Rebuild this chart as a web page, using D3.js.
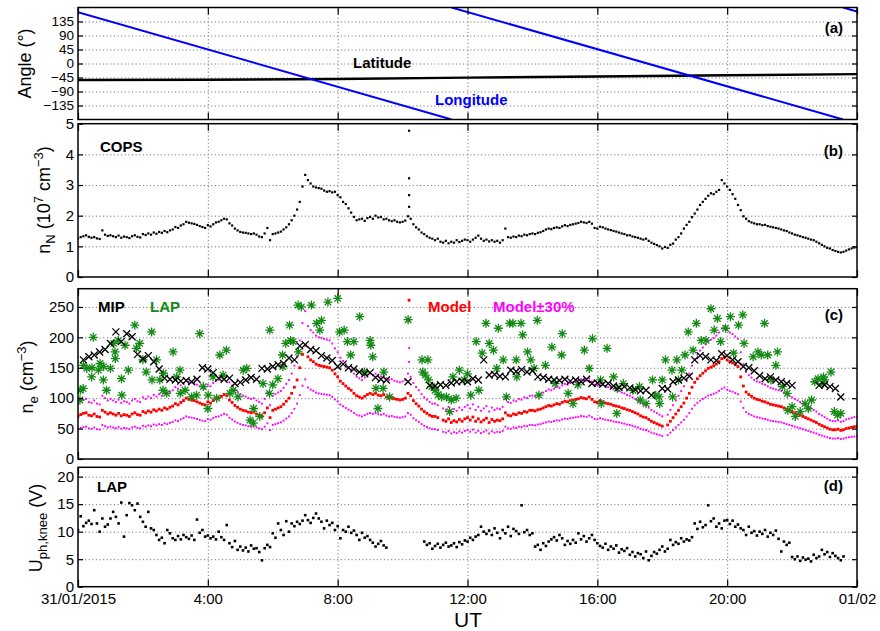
<!DOCTYPE html>
<html>
<head>
<meta charset="utf-8">
<script src="https://cdn.jsdelivr.net/npm/d3@7"></script>
<style>
body { margin: 0; background: #fff; }
svg text { font-family: "Liberation Sans", Arial, Helvetica, sans-serif; }
</style>
</head>
<body>
<svg id="chart" width="880" height="631"></svg>
<script>
// time axis (hours of 31/01/2015, UT)
var xTickHours = [0, 4, 8, 12, 16, 20, 24];
var xTickLabels = ["31/01/2015", "4:00", "8:00", "12:00", "16:00", "20:00", "01/02"];

// y ticks of each panel
var angleTicks = [-135, -90, -45, 0, 45, 90, 135];
var copsTicks = [0, 1, 2, 3, 4, 5];
var neTicks = [0, 50, 100, 150, 200, 250];
var uphTicks = [0, 5, 10, 15, 20];

// (a) sub-spacecraft latitude / longitude (deg)
var latHours = [0, 4, 8, 12, 16, 20, 24];
var latDeg = [-53, -52, -50, -45.5, -42, -38, -34];
var lonHours = [0, 11.51, 11.51, 23.57, 23.57, 24];
var lonDeg = [165, -180, 180, -180, 180, 167];

// dense series are sampled every 5 minutes from 00:00
var stepMin = 5;

// (b) COPS neutral density (1e7 cm^-3)
var copsNn = [
  1.25,1.30,1.33,1.36,1.31,1.28,1.30,1.26,1.24,1.52,1.38,1.34,
  1.36,1.33,1.30,1.35,1.28,1.32,1.30,1.27,1.33,1.36,1.31,1.29,
  1.40,1.37,1.42,1.38,1.45,1.41,1.47,1.44,1.50,1.46,1.52,1.55,
  1.63,1.60,1.68,1.72,1.80,1.77,1.75,1.73,1.70,1.66,1.63,1.60,
  1.69,1.65,1.72,1.78,1.80,1.85,1.90,1.88,1.75,1.68,1.58,1.52,
  1.47,1.45,1.44,1.42,1.40,1.42,1.38,1.32,1.30,1.42,1.60,1.20,
  1.40,1.42,1.45,1.48,1.55,1.62,1.72,1.85,2.00,2.20,2.45,2.95,
  3.33,3.16,3.05,2.95,2.92,2.90,2.88,2.82,2.78,2.80,2.76,2.78,
  2.67,2.60,2.45,2.38,2.24,2.10,1.96,1.85,1.88,1.90,1.83,1.92,
  1.96,1.90,2.00,1.94,1.96,1.88,1.90,1.85,1.82,1.85,1.80,1.78,
  1.80,1.84,1.98,1.90,1.72,1.62,1.55,1.45,1.40,1.33,1.28,1.25,
  1.20,1.25,1.15,1.12,1.18,1.10,1.15,1.12,1.20,1.14,1.18,1.22,
  1.20,1.15,1.22,1.28,1.35,1.25,1.18,1.22,1.16,1.20,1.15,1.18,
  1.12,1.20,1.58,1.30,1.28,1.32,1.30,1.35,1.33,1.38,1.36,1.40,
  1.42,1.40,1.44,1.46,1.50,1.55,1.58,1.56,1.60,1.62,1.60,1.65,
  1.69,1.66,1.70,1.72,1.74,1.76,1.80,1.78,1.76,1.80,1.74,1.60,
  1.58,1.64,1.62,1.58,1.55,1.53,1.50,1.48,1.45,1.42,1.40,1.36,
  1.36,1.32,1.30,1.28,1.25,1.22,1.25,1.18,1.12,1.08,1.04,1.00,
  0.93,0.98,0.95,1.05,1.09,1.22,1.30,1.42,1.58,1.70,1.80,1.95,
  2.07,2.20,2.35,2.45,2.55,2.65,2.73,2.70,2.78,2.84,3.16,3.05,
  2.95,2.84,2.70,2.55,2.35,2.18,1.98,1.90,1.82,1.78,1.75,1.72,
  1.72,1.69,1.70,1.66,1.64,1.62,1.60,1.58,1.55,1.52,1.50,1.45,
  1.42,1.38,1.36,1.33,1.30,1.28,1.25,1.22,1.20,1.15,1.10,1.05,
  1.00,0.95,0.93,0.88,0.85,0.82,0.80,0.82,0.86,0.90,0.93,0.96,
  0.98
];
// short burst near 10:12
var copsBurstHours = [10.2, 10.2, 10.2, 10.2];
var copsBurstNn = [4.77, 3.22, 2.67, 2.29];

// (c) model electron density (cm^-3)
var modelNe = [
  70,73,75,76,72,71,74,70,69,80,77,74,
  76,74,72,75,71,73,72,70,74,76,73,72,
  78,76,79,77,81,79,82,80,84,82,85,87,
  91,89,93,96,100,98,97,96,94,92,90,89,
  94,92,96,99,100,103,106,104,97,93,88,85,
  82,80,79,77,76,77,74,72,70,76,84,68,
  80,82,84,86,90,95,100,108,118,130,150,172,
  187,168,163,160,156,154,153,152,151,150,146,140,
  135,128,124,120,116,113,108,104,102,100,103,106,
  108,106,108,105,104,106,102,100,101,99,98,97,
  98,100,108,104,96,91,87,82,78,75,72,70,
  70,68,null,64,62,66,60,63,61,65,62,66,
  68,64,69,62,66,61,64,67,60,65,62,64,
  63,66,76,72,71,74,73,76,75,78,77,80,
  80,79,81,82,84,86,88,87,89,91,90,93,
  95,94,96,97,98,99,101,100,99,102,98,94,
  93,96,94,92,91,90,88,87,86,84,83,81,
  80,78,76,74,71,69,68,65,62,60,58,56,
  54,null,56,62,68,74,80,86,92,100,108,118,
  126,132,137,141,145,149,151,153,156,160,165,168,
  163,160,158,155,152,135,120,110,106,103,100,98,
  97,95,94,92,90,89,88,87,86,84,82,80,
  78,76,74,72,70,68,66,64,62,60,57,55,
  53,51,49,48,48,49,47,48,50,51,52,53,
  54
];
var modelBurstHours = [10.2, 10.2];
var modelBurstNe = [261, 228];
var modelSpread = 0.3; // Model ±30%

// (c) MIP electron density, every 10 minutes
var mipStepMin = 10;
var mipNe = [
  null,163,168,171,176,180,190,209,193,206,201,172,
  165,170,160,148,133,131,130,128,129,127,131,150,
  148,142,133,131,133,124,126,130,134,131,149,148,
  152,155,157,166,163,186,188,180,178,170,166,162,
  152,156,150,148,143,140,142,134,131,130,null,null,
  null,127,null,null,null,121,120,122,121,125,127,128,
  127,132,130,163,138,139,136,135,146,144,147,143,
  145,135,134,131,130,129,131,128,130,127,131,124,
  125,123,124,120,118,119,117,114,112,113,105,null,
  116,115,127,130,133,136,163,170,168,163,162,173,
  170,163,160,152,150,145,137,132,135,130,127,124,
  121,null,null,null,null,121,122,119,116,102,null,null,
  null
];

// (c) LAP electron density
var lapHours = [
  0.06,0.07,0.16,0.17,0.27,0.42,0.43,0.47,0.63,0.68,
  0.78,0.79,0.88,1.0,1.1,1.14,1.15,1.24,1.34,1.35,
  1.45,1.55,1.75,1.8,1.9,2.0,2.1,2.27,2.28,2.42,
  2.52,2.62,2.63,2.73,2.93,3.04,3.14,3.15,3.3,3.5,
  3.65,3.75,3.86,4.0,4.01,4.16,4.27,4.37,4.47,4.57,
  4.68,4.78,4.93,5.09,5.2,5.3,5.4,5.41,5.6,5.7,
  5.9,5.91,6.0,6.16,6.3,6.31,6.4,6.52,6.55,6.63,
  6.78,6.79,6.88,7.19,7.35,7.45,7.5,7.7,8.0,8.06,
  8.2,8.3,8.4,8.5,8.68,8.83,9.0,9.02,9.08,9.18,
  9.24,9.4,9.42,9.6,10.17,10.6,10.62,10.7,10.78,10.8,
  10.9,11.0,11.1,11.2,11.35,11.45,11.5,11.55,11.65,11.75,
  11.9,12.0,12.1,12.27,12.35,12.45,12.57,12.67,12.8,12.9,
  12.95,13.1,13.2,13.3,13.4,13.5,13.52,13.65,13.7,13.85,
  13.95,14.05,14.15,14.2,14.4,14.6,14.7,14.9,14.92,15.1,
  15.25,15.4,15.6,15.75,15.85,16.1,16.12,16.3,16.5,16.6,
  16.62,16.8,17.1,17.3,17.32,17.5,17.7,17.8,17.9,17.92,
  18.0,18.1,18.3,18.32,18.45,18.5,18.6,18.7,18.8,18.95,
  19.05,19.2,19.35,19.5,19.6,19.7,19.8,19.95,20.1,20.2,
  20.35,20.48,20.52,20.8,20.95,21.05,21.15,21.25,21.35,21.5,
  21.55,21.7,21.85,21.87,22.0,22.1,22.25,22.4,22.5,22.6,
  22.7,22.8,22.95,22.97,23.0,23.2,23.3,23.4,23.5
];
var lapNe = [
  97,113,116,154,149,135,150,200,146,157,
  130,152,113,149,190,176,165,195,132,105,
  187,146,220,182,190,163,143,209,130,163,
  130,113,141,108,176,135,146,108,113,102,
  105,206,119,83,105,135,100,171,138,179,
  108,113,102,146,149,64,59,83,70,124,
  108,212,122,132,171,152,190,220,195,193,
  253,176,250,253,223,212,228,258,264,209,
  212,193,171,193,234,143,195,187,168,116,
  83,116,143,102,229,163,143,138,163,130,
  119,113,106,102,102,78,97,135,100,146,
  130,140,105,193,113,174,223,190,179,149,
  215,163,102,223,223,163,135,223,204,176,
  163,149,228,105,154,184,124,171,206,108,
  91,122,179,149,198,130,91,182,135,75,
  116,124,113,119,97,91,130,105,102,91,
  130,163,146,102,163,130,146,171,209,179,
  223,195,195,247,212,231,193,215,234,174,
  220,237,190,168,176,171,223,171,130,154,
  176,119,108,80,86,70,78,91,83,97,
  127,132,124,135,130,143,78,72,75
];

// (d) LAP photoelectron knee potential (V)
var uphKnee = [
  10.3,12.8,11.0,11.6,12.0,11.4,13.9,11.5,10.0,12.4,10.9,11.3,
  12.4,13.6,12.7,11.5,15.3,9.1,13.0,15.2,14.8,13.9,15.1,12.7,
  11.8,10.9,13.6,10.6,10.3,9.4,8.5,8.9,7.9,10.3,9.7,8.8,
  8.5,9.2,8.6,9.4,9.0,8.7,9.3,8.5,12.2,9.8,10.3,9.1,
  9.3,8.8,9.1,8.6,10.0,9.0,8.5,11.2,7.9,7.2,8.3,6.7,
  7.3,6.6,7.1,6.4,7.5,6.9,7.0,6.3,4.8,7.0,7.6,7.2,
  9.7,8.9,11.5,10.3,9.4,11.9,10.0,11.5,11.0,11.8,11.4,12.0,
  13.0,12.1,11.6,12.5,13.3,12.4,11.8,10.6,12.0,11.2,11.6,10.3,
  11.0,8.8,10.3,10.0,10.9,9.8,10.2,9.4,8.5,9.8,8.9,9.2,
  8.5,8.0,7.3,7.8,8.3,7.5,7.1,null,null,null,null,null,
  null,null,null,null,null,null,null,null,8.2,7.6,7.9,6.9,
  7.4,7.8,7.1,7.6,8.0,7.3,7.5,7.9,7.2,8.1,7.7,8.4,
  8.2,8.9,8.5,9.1,9.4,10.9,10.0,9.6,10.2,9.4,10.6,9.8,
  8.8,10.3,9.7,10.9,9.2,10.5,10.1,9.6,14.8,9.9,10.3,9.4,
  9.7,7.3,7.6,6.7,7.9,7.4,8.2,8.6,9.0,8.4,9.4,8.8,
  7.6,8.3,7.8,8.5,8.0,9.7,8.6,9.2,8.2,8.8,9.4,8.5,
  7.9,7.4,7.1,7.8,6.7,7.3,6.9,7.5,6.2,6.8,6.5,7.0,
  5.8,6.3,5.5,6.1,5.9,5.2,6.4,4.8,5.6,6.3,6.0,6.7,
  7.3,6.4,6.9,8.5,7.6,8.1,7.8,8.8,8.2,8.6,8.4,9.0,
  11.5,10.5,11.8,10.8,11.2,14.8,11.9,12.4,10.9,11.5,10.6,12.0,
  12.1,11.4,12.0,10.9,11.3,10.6,10.3,9.4,10.9,9.8,10.1,9.3,
  10.0,9.6,10.3,9.1,9.8,9.4,10.2,8.7,6.4,8.2,7.6,8.0,
  5.4,5.0,5.5,4.7,5.3,4.9,5.1,4.6,5.8,5.2,5.5,6.7,
  5.9,6.3,5.4,6.1,5.6,5.2,4.8,5.5,null,null,null,null,
  null
];

var svg = d3.select("#chart");
var x = d3.scaleLinear().domain([0, 24]).range([78, 857]);

// sampled series -> [hour, value] pairs, gaps dropped
function sampled(values, step) {
    var pts = [];
    values.forEach(function(v, i) {
        if (v !== null) pts.push([i * step / 60, v]);
    });
    return pts;
}
function paired(hours, values) {
    return hours.map(function(h, i) { return [h, values[i]]; });
}

function makePanel(name, top, bottom, domain, ticks) {
    var y = d3.scaleLinear().domain(domain).range([bottom, top]);
    var g = svg.append("g");

    svg.append("clipPath").attr("id", "clip_" + name)
        .append("rect")
        .attr("x", x(0)).attr("y", top)
        .attr("width", x(24) - x(0)).attr("height", bottom - top);

    // dotted grid
    var inner = ticks.filter(function(t) { return t > domain[0] && t < domain[1]; });
    g.append("g").attr("transform", "translate(" + x(0) + ",0)")
        .call(d3.axisLeft(y).tickValues(inner).tickSize(-(x(24) - x(0))).tickFormat(""))
        .call(styleGrid);
    g.append("g").attr("transform", "translate(0," + bottom + ")")
        .call(d3.axisBottom(x).tickValues(xTickHours.slice(1, -1)).tickSize(-(bottom - top)).tickFormat(""))
        .call(styleGrid);

    var plot = g.append("g").attr("clip-path", "url(#clip_" + name + ")");
    return { name: name, top: top, bottom: bottom, y: y, g: g, plot: plot, ticks: ticks };
}

function styleGrid(sel) {
    sel.select(".domain").remove();
    sel.selectAll("line").attr("stroke", "#666").attr("stroke-width", 1).attr("stroke-dasharray", "1,2.6");
}

function finishPanel(p, tagY, tickFont, withXLabels) {
    var g = p.g;
    var fmt = d3.format("d");

    var left = g.append("g").attr("transform", "translate(" + x(0) + ",0)")
        .call(d3.axisLeft(p.y).tickValues(p.ticks).tickSize(-5).tickPadding(4).tickFormat(fmt));
    left.select(".domain").remove();
    left.selectAll("text").attr("font-size", tickFont).attr("font-family", "Liberation Sans, Arial, sans-serif");
    left.selectAll("line").attr("stroke-width", 1.2);

    var right = g.append("g").attr("transform", "translate(" + x(24) + ",0)")
        .call(d3.axisRight(p.y).tickValues(p.ticks).tickSize(-5).tickFormat(""));
    right.select(".domain").remove();
    right.selectAll("line").attr("stroke-width", 1.2);

    var topAx = g.append("g").attr("transform", "translate(0," + p.top + ")")
        .call(d3.axisTop(x).tickValues(xTickHours).tickSize(-7).tickFormat(""));
    topAx.select(".domain").remove();
    topAx.selectAll("line").attr("stroke-width", 1.2);

    var bottomAx = g.append("g").attr("transform", "translate(0," + p.bottom + ")")
        .call(d3.axisBottom(x).tickValues(xTickHours).tickSize(-7).tickPadding(7)
            .tickFormat(function(d, i) { return withXLabels ? xTickLabels[i] : ""; }));
    bottomAx.select(".domain").remove();
    bottomAx.selectAll("line").attr("stroke-width", 1.2);
    bottomAx.selectAll("text").attr("font-size", 15).attr("font-family", "Liberation Sans, Arial, sans-serif");

    g.append("rect")
        .attr("x", x(0)).attr("y", p.top)
        .attr("width", x(24) - x(0)).attr("height", p.bottom - p.top)
        .attr("fill", "none").attr("stroke", "#000").attr("stroke-width", 1.5);

    g.append("text")
        .attr("x", 843).attr("y", tagY)
        .attr("text-anchor", "end").attr("font-size", 15).attr("font-weight", "bold")
        .text("(" + p.name + ")");
}

function squares(p, pts, size, color) {
    p.plot.append("g").selectAll("rect").data(pts).enter().append("rect")
        .attr("x", function(d) { return x(d[0]) - size / 2; })
        .attr("y", function(d) { return p.y(d[1]) - size / 2; })
        .attr("width", size).attr("height", size)
        .attr("fill", color);
}

function markers(p, pts, path, color, width) {
    p.plot.append("g").selectAll("path").data(pts).enter().append("path")
        .attr("transform", function(d) { return "translate(" + x(d[0]) + "," + p.y(d[1]) + ")"; })
        .attr("d", path)
        .attr("fill", "none").attr("stroke", color).attr("stroke-width", width);
}

function label(g, px, py, txt, color) {
    g.append("text").attr("x", px).attr("y", py)
        .attr("font-size", 15).attr("font-weight", "bold").attr("fill", color)
        .text(txt);
}

// rotated y label with sub/superscript parts: [text, shift]
function yLabel(cx, cy, parts) {
    var t = svg.append("text")
        .attr("transform", "translate(" + cx + "," + cy + ") rotate(-90)")
        .attr("text-anchor", "middle").attr("font-size", 18);
    var shift = 0;
    parts.forEach(function(part) {
        var s = t.append("tspan").text(part[0]);
        var want = part[1] || 0;
        if (want !== shift) s.attr("dy", want - shift);
        if (want !== 0) s.attr("font-size", 13);
        shift = want;
    });
}

// ---- (a) angles
var pa = makePanel("a", 7.5, 119.5, [-180, 180], angleTicks);
var angleLine = d3.line()
    .defined(function(d) { return d !== null; })
    .x(function(d) { return x(d[0]); })
    .y(function(d) { return pa.y(d[1]); });

pa.plot.append("path").datum(paired(latHours, latDeg))
    .attr("d", angleLine).attr("fill", "none").attr("stroke", "#000").attr("stroke-width", 2.4);

// break the longitude where it wraps (same hour listed twice)
var lonPts = [];
paired(lonHours, lonDeg).forEach(function(d, i, all) {
    if (i > 0 && d[0] === all[i - 1][0]) lonPts.push(null);
    lonPts.push(d);
});
pa.plot.append("path").datum(lonPts)
    .attr("d", angleLine).attr("fill", "none").attr("stroke", "#0000ff").attr("stroke-width", 2);

label(pa.g, 353, 68, "Latitude", "#000");
label(pa.g, 435, 105, "Longitude", "#0000ff");
finishPanel(pa, 33, 13.5, false);

// ---- (b) COPS
var pb = makePanel("b", 123.7, 277, [0, 5], copsTicks);
squares(pb, sampled(copsNn, stepMin).concat(paired(copsBurstHours, copsBurstNn)), 2.2, "#000");
label(pb.g, 100, 152, "COPS", "#000");
finishPanel(pb, 156, 15, false);

// ---- (c) electron density
var pc = makePanel("c", 288.7, 459, [0, 280], neTicks);
var modelPts = sampled(modelNe, stepMin).concat(paired(modelBurstHours, modelBurstNe));
var bandPts = [];
modelPts.forEach(function(d) {
    bandPts.push([d[0], d[1] * (1 + modelSpread)]);
    bandPts.push([d[0], d[1] * (1 - modelSpread)]);
});
squares(pc, bandPts, 1.9, "#ff00ff");
squares(pc, modelPts, 2.8, "#ff0000");
markers(pc, paired(lapHours, lapNe),
    "M-4.5,0H4.5M0,-4.5V4.5M-3.2,-3.2L3.2,3.2M-3.2,3.2L3.2,-3.2", "#138a13", 1.3);
markers(pc, sampled(mipNe, mipStepMin),
    "M-3.5,-3.5L3.5,3.5M-3.5,3.5L3.5,-3.5", "#000", 1.3);
label(pc.g, 98, 312, "MIP", "#000");
label(pc.g, 150, 312, "LAP", "#138a13");
label(pc.g, 428, 312, "Model", "#ff0000");
label(pc.g, 493, 312, "Model\u00b130%", "#ff00ff");
finishPanel(pc, 319.5, 15, false);

// ---- (d) knee potential
var pd = makePanel("d", 467.3, 586.7, [0, 21.7], uphTicks);
squares(pd, sampled(uphKnee, stepMin), 2.6, "#000");
label(pd.g, 97, 492, "LAP", "#000");
finishPanel(pd, 490.5, 15, true);

// axis titles
yLabel(31, 63.5, [["Angle (\u00b0)"]]);
yLabel(50, 200, [["n"], ["N", 5], [" (10", 0], ["7", -7], [" cm", 0], ["\u22123", -7], [")", 0]]);
yLabel(33, 377, [["n"], ["e", 5], [" (cm", 0], ["\u22123", -7], [")", 0]]);
yLabel(42, 528, [["U"], ["ph,knee", 5], [" (V)", 0]]);

svg.append("text")
    .attr("x", 468).attr("y", 627)
    .attr("text-anchor", "middle").attr("font-size", 21)
    .text("UT");
</script>
</body>
</html>
